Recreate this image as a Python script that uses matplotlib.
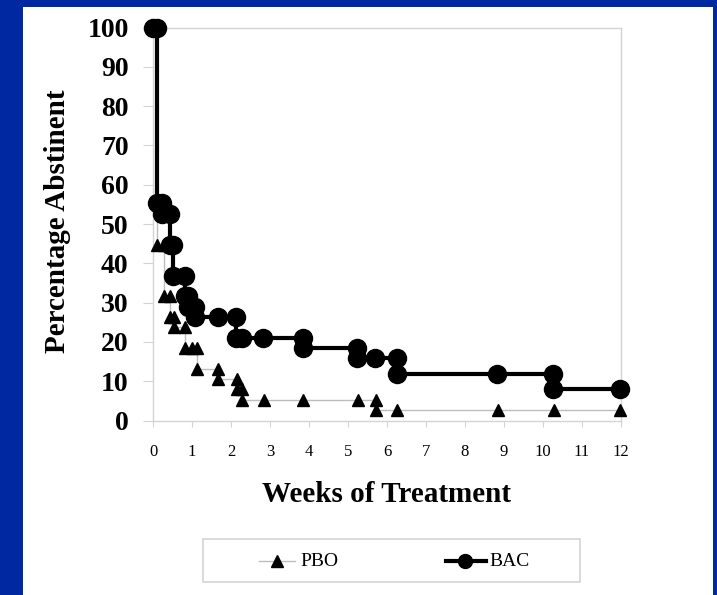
import matplotlib
matplotlib.use("Agg")
import matplotlib.pyplot as plt
from matplotlib.patches import Rectangle
from matplotlib.lines import Line2D

# Kaplan-Meier style step vertices (weeks, % abstinent)
bac_weeks = [0, 0.1, 0.1, 0.22, 0.22, 0.44, 0.44, 0.52, 0.52, 0.82, 0.82, 0.9, 0.9,
             1.08, 1.08, 1.67, 2.12, 2.12, 2.28, 2.82, 3.85, 3.85, 5.22, 5.22, 5.69,
             6.25, 6.25, 8.81, 10.26, 10.26, 11.97]
bac_pct = [100, 100, 55.3, 55.3, 52.6, 52.6, 44.7, 44.7, 36.8, 36.8, 31.6, 31.6, 28.9,
           28.9, 26.3, 26.3, 26.3, 21.1, 21.1, 21.1, 21.1, 18.4, 18.4, 15.8, 15.8,
           15.8, 11.9, 11.9, 11.9, 7.9, 7.9]

pbo_weeks = [0, 0.1, 0.1, 0.27, 0.27, 0.44, 0.44, 0.55, 0.55, 0.82, 0.82, 1.0, 1.12,
             1.12, 1.67, 1.67, 2.15, 2.15, 2.28, 2.28, 2.85, 3.85, 5.26, 5.72, 5.72,
             6.26, 8.85, 10.28, 11.97]
pbo_pct = [100, 100, 44.7, 44.7, 31.6, 31.6, 26.3, 26.3, 23.7, 23.7, 18.4, 18.4, 18.4,
           13.2, 13.2, 10.5, 10.5, 7.9, 7.9, 5.3, 5.3, 5.3, 5.3, 5.3, 2.6,
           2.6, 2.6, 2.6, 2.6]

series_names = ["PBO", "BAC"]
x_ticks = list(range(0, 13))
y_ticks = list(range(0, 101, 10))

W, H = 717, 595
fig = plt.figure(figsize=(W / 100, H / 100), dpi=100)
fig.patch.set_facecolor("#0028A0")
fig.patches.append(Rectangle((23 / W, 0), (713 - 23) / W, (595 - 7) / H,
                             transform=fig.transFigure, facecolor="white",
                             edgecolor="none", zorder=-5))

serif = ["Liberation Serif", "DejaVu Serif"]
ax = fig.add_axes([153 / W, 1 - 420.5 / H, (621 - 153) / W, (420.5 - 27.5) / H])
ax.set_zorder(2)
ax.set_facecolor("white")

ax.plot(pbo_weeks, pbo_pct, color="#bdbdbd", lw=1, marker="^", ms=8,
        mfc="black", mec="black", clip_on=False, zorder=3, label=series_names[0])
ax.plot(bac_weeks, bac_pct, color="black", lw=3, marker="o", ms=13,
        mfc="black", mec="black", clip_on=False, zorder=4, label=series_names[1])

ax.set_xlim(0, 12)
ax.set_ylim(0, 100)
ax.set_xticks(x_ticks)
ax.set_yticks(y_ticks)
ax.set_xticklabels([str(v) for v in x_ticks], fontfamily=serif, fontsize=12)
ax.set_yticklabels([str(v) for v in y_ticks], fontfamily=serif, fontsize=20,
                   fontweight="bold")
for s in ax.spines.values():
    s.set_color("#d4d4d4")
    s.set_linewidth(1)
ax.tick_params(axis="x", direction="out", length=4, color="#d4d4d4", pad=13)
ax.tick_params(axis="y", direction="out", length=7.5, color="#d4d4d4", pad=10)

fig.text(387 / W, 1 - 494 / H, "Weeks of Treatment", fontfamily=serif, fontsize=21,
         fontweight="bold", ha="center", va="center")
fig.text(58 / W, 1 - 221 / H, "Percentage Abstinent", fontfamily=serif, fontsize=21,
         fontweight="bold", ha="center", va="center", rotation=90)

# legend box drawn in figure pixels
def fx(px):
    return px / W

def fy(py):
    return 1 - py / H

fig.patches.append(Rectangle((fx(203), fy(582)), (580 - 203) / W, (582 - 539) / H,
                             transform=fig.transFigure, facecolor="white",
                             edgecolor="#d4d4d4", lw=1.2, zorder=3))
ly = fy(561)
fig.lines.append(Line2D([fx(259), fx(295)], [ly, ly], color="#bdbdbd", lw=1,
                        transform=fig.transFigure, zorder=4))
fig.lines.append(Line2D([fx(277)], [ly], marker="^", ms=8, mfc="black", mec="black",
                        transform=fig.transFigure, zorder=4))
fig.text(fx(300), ly, series_names[0], fontfamily=serif, fontsize=14,
         va="center", ha="left", zorder=4)
fig.lines.append(Line2D([fx(446), fx(486)], [ly, ly], color="black", lw=3,
                        transform=fig.transFigure, zorder=4))
fig.lines.append(Line2D([fx(465)], [ly], marker="o", ms=10, mfc="black", mec="black",
                        transform=fig.transFigure, zorder=4))
fig.text(fx(489), ly, series_names[1], fontfamily=serif, fontsize=14,
         va="center", ha="left", zorder=4)

fig.savefig("out.png", dpi=100, facecolor=fig.get_facecolor())
